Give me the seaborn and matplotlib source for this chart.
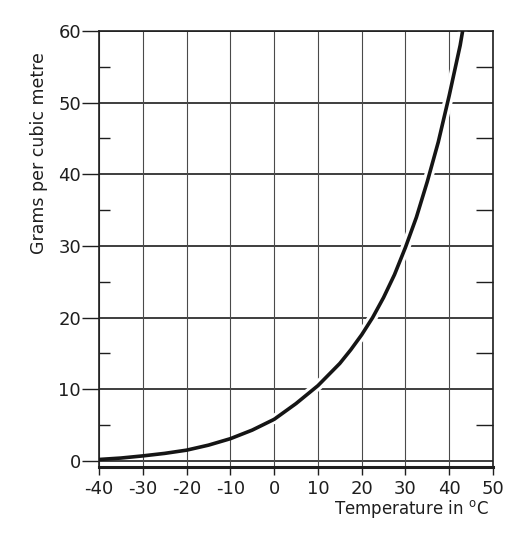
import numpy as np
import pandas as pd
import matplotlib
matplotlib.use("Agg")
import matplotlib.pyplot as plt
import seaborn as sns
from matplotlib.ticker import FixedLocator

# Data
temperature_c = [-40, -35, -30, -25, -20, -15, -10, -5, 0, 5, 10, 15, 17.5, 20,
                 22.5, 25, 27.5, 30, 32.5, 35, 37.5, 40, 42.5, 43.2]
grams_per_m3 = [0.2, 0.4, 0.7, 1.05, 1.5, 2.2, 3.1, 4.3, 5.8, 8.0, 10.5, 13.6, 15.5, 17.6,
                20.0, 22.8, 26.0, 29.8, 34.0, 39.0, 44.5, 51.0, 58.0, 60.5]
x_ticks = [-40, -30, -20, -10, 0, 10, 20, 30, 40, 50]
y_ticks = [0, 10, 20, 30, 40, 50, 60]
y_minor = [5, 15, 25, 35, 45, 55]

sns.set_style("ticks")
plt.rcParams['font.family'] = ['DejaVu Sans']

fig = plt.figure(figsize=(5.14, 5.34), dpi=100)
W, H = 514, 534
ax = fig.add_axes([99 / W, 1 - 467 / H, (493 - 99) / W, (467 - 31) / H])

df = pd.DataFrame({"Temperature": temperature_c, "Grams": grams_per_m3})

ax.set_xlim(-40, 50)
ax.set_ylim(-0.85, 60)

# grid
for y in y_ticks:
    ax.axhline(y, color="#1e1e1e", lw=1.2, zorder=1)
for x in x_ticks:
    ax.axvline(x, color="#4a4a4a", lw=0.8, zorder=1)

# white gap in the grid around the curve (drafting style)
sns.lineplot(data=df[df["Temperature"] >= 0], x="Temperature", y="Grams", ax=ax,
             color="white", lw=7, zorder=2)
sns.lineplot(data=df, x="Temperature", y="Grams", ax=ax, color="#151515",
             lw=2.6, zorder=3)

ax.xaxis.set_major_locator(FixedLocator(x_ticks))
ax.yaxis.set_major_locator(FixedLocator(y_ticks))
ax.yaxis.set_minor_locator(FixedLocator(y_minor))
ax.set_xticklabels([str(v) for v in x_ticks])
ax.set_yticklabels([str(v) for v in y_ticks])

ax.tick_params(axis="x", which="major", direction="out", length=6, width=1.0,
               pad=3, labelsize=13, colors="#1e1e1e")
ax.tick_params(axis="y", which="major", direction="out", length=12, width=1.0,
               pad=1, labelsize=13, colors="#1e1e1e", left=True, right=False)
ax.tick_params(axis="y", which="minor", direction="in", length=8, width=1.0,
               left=True, right=False, colors="#1e1e1e")

# right-side inner minor ticks
axr = ax.twinx()
axr.set_ylim(ax.get_ylim())
axr.yaxis.set_major_locator(FixedLocator([]))
axr.yaxis.set_minor_locator(FixedLocator(y_minor))
axr.tick_params(axis="y", which="minor", direction="in", length=12, width=1.0,
                colors="#1e1e1e", labelright=False)
for s in axr.spines.values():
    s.set_visible(False)

for name, sp in ax.spines.items():
    sp.set_visible(True)
    sp.set_color("#1e1e1e")
    sp.set_linewidth(1.2)
ax.spines["bottom"].set_linewidth(2.2)

ax.set_ylabel("Grams per cubic metre", fontsize=12.5, color="#1e1e1e")
ax.yaxis.set_label_coords(-0.13, 0.72)
ax.set_xlabel("Temperature in $^{\\mathrm{o}}$C", fontsize=12, color="#1e1e1e",
              ha="right")
ax.xaxis.set_label_coords(0.99, -0.072)

fig.savefig("out.png", dpi=100, facecolor="white")
